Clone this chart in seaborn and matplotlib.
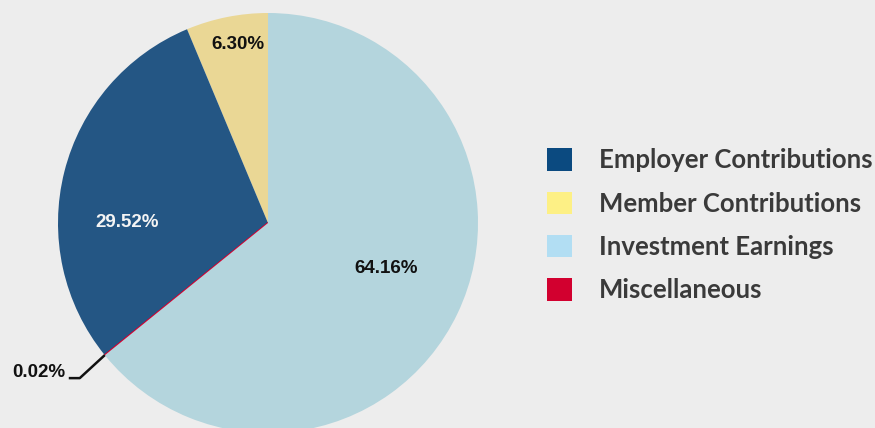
import numpy as np
import matplotlib
matplotlib.use("Agg")
import matplotlib.pyplot as plt
from matplotlib.patches import Patch
import seaborn as sns

# Data
pie_order = ["Member Contributions", "Employer Contributions", "Miscellaneous", "Investment Earnings"]
pie_values = [6.30, 29.52, 0.02, 64.16]
pie_labels = ["6.30%", "29.52%", "0.02%", "64.16%"]
legend_order = ["Employer Contributions", "Member Contributions", "Investment Earnings", "Miscellaneous"]

pie_colors = {"Employer Contributions": "#245684", "Member Contributions": "#ead795",
              "Investment Earnings": "#b4d5dd", "Miscellaneous": "#d2002f"}
legend_colors = {"Employer Contributions": "#0b4a80", "Member Contributions": "#fdf085",
                 "Investment Earnings": "#b2def3", "Miscellaneous": "#d2002f"}
label_colors = {"Member Contributions": "#111111", "Employer Contributions": "#f4f4f4",
                "Investment Earnings": "#111111", "Miscellaneous": "#111111"}
# radial placement factor and angular shift (degrees) for each label
label_r = {"Member Contributions": 0.86, "Employer Contributions": 0.67,
           "Investment Earnings": 0.60, "Miscellaneous": 1.0}
label_dtheta = {"Member Contributions": -1.7, "Employer Contributions": 13.8,
                "Investment Earnings": 4.5, "Miscellaneous": 0}

BG = "#ededed"
sns.set_theme(style="white")
plt.rcParams["font.family"] = ["Liberation Sans", "DejaVu Sans"]

W, H = 875, 428
fig = plt.figure(figsize=(W / 100, H / 100), dpi=100, facecolor=BG)
ax = fig.add_axes([0, 0, 1, 1])
ax.set_facecolor(BG)

cx, cy, R = 268, H - 223, 210
wedges, _ = ax.pie(pie_values, colors=[pie_colors[n] for n in pie_order],
                   startangle=90, counterclock=True, center=(cx, cy), radius=R,
                   frame=True, wedgeprops=dict(linewidth=0))
ax.set_xlim(0, W)
ax.set_ylim(0, H)
ax.set_aspect("equal")
ax.axis("off")

LFS = 13.5
for w, name, lab in zip(wedges, pie_order, pie_labels):
    if name == "Miscellaneous":
        w.set_edgecolor(pie_colors[name])
        w.set_linewidth(1.0)
        ang = np.deg2rad((w.theta1 + w.theta2) / 2)
        x0, y0 = cx + R * np.cos(ang), cy + R * np.sin(ang)
        x1, y1 = x0 - 25, y0 - 23
        ax.plot([x0, x1, x1 - 11], [y0, y1, y1], color="#111111", lw=1.8,
                solid_capstyle="butt", zorder=5)
        ax.text(x1 - 14, y1 + 6, lab, ha="right", va="center", fontsize=LFS,
                fontweight="bold", color=label_colors[name])
        continue
    ang = np.deg2rad((w.theta1 + w.theta2) / 2 + label_dtheta[name])
    r = R * label_r[name]
    ax.text(cx + r * np.cos(ang), cy + r * np.sin(ang), lab, ha="center", va="center",
            fontsize=LFS, fontweight="bold", color=label_colors[name])

handles = [Patch(facecolor=legend_colors[n], edgecolor="none") for n in legend_order]
leg = fig.legend(handles, legend_order, loc="upper left", bbox_to_anchor=(537 / W, 1 - 138 / H),
                 frameon=False, handlelength=0.97, handleheight=0.97,
                 handletextpad=1.05, labelspacing=0.75, borderaxespad=0,
                 prop={"family": "Lato", "weight": "bold", "size": 18.5})
for t in leg.get_texts():
    t.set_color("#3a3a3a")

fig.savefig("out.png", dpi=100, facecolor=BG)
